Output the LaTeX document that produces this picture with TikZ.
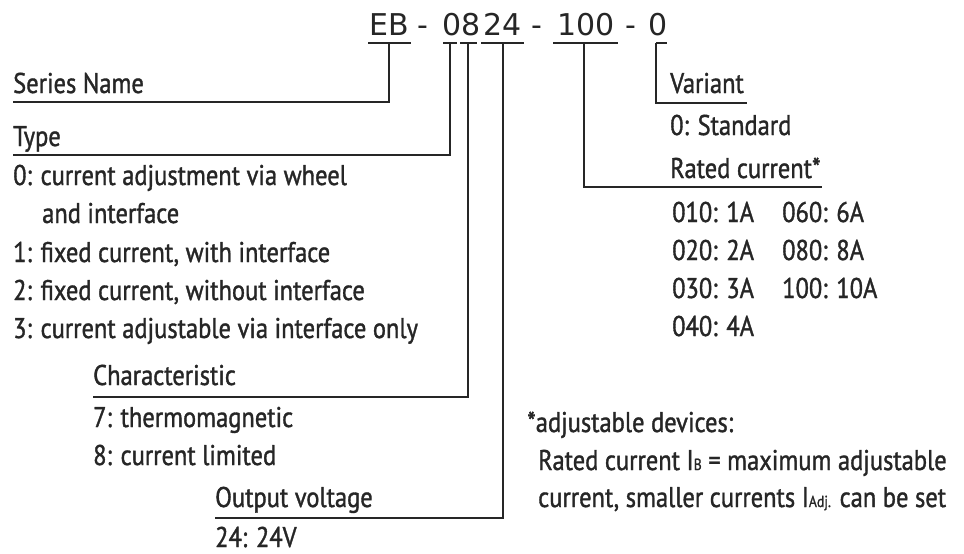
\documentclass[tikz,border=0pt]{standalone}
\usepackage{fontspec}
\setmainfont{PT Sans}[FakeStretch=0.86,FakeBold=1.2]
\newfontfamily\codefont{DejaVu Sans}
\definecolor{ink}{HTML}{262626}
\newcommand{\smallsub}[1]{{\fontsize{16}{16}\selectfont #1}}
\begin{document}
\begin{tikzpicture}[x=1pt,y=-1pt,
  txt/.style={anchor=base west,inner sep=0pt,text=ink,font=\fontsize{28.5}{30}\selectfont},
  code/.style={anchor=base,inner sep=0pt,text=ink,font=\codefont\fontsize{30}{30}\selectfont},
  ln/.style={draw=ink,line width=2.2pt}]
\useasboundingbox[fill=white] (0,0) rectangle (964,554);
% code segments
\node[code] (cEB) at (389,35) {EB};
\node[code] (d1) at (423,35) {-};
\node[code] (c0) at (452,35) {0};
\node[code] (c8) at (471,35) {8};
\node[code] (c24) at (503,35) {24};
\node[code] (d2) at (537,35) {-};
\node[code] (c100) at (586,35) {100};
\node[code] (d3) at (631,35) {-};
\node[code] (cV) at (658,35) {0};
% bars
\coordinate (bEBl) at (368,43); \coordinate (bEBr) at (411,43);
\coordinate (b0l) at (443,43); \coordinate (b0r) at (457,43);
\coordinate (b8l) at (460,43); \coordinate (b8r) at (477,43);
\coordinate (b24l) at (481,43); \coordinate (b24r) at (524,43);
\coordinate (b100l) at (553,43); \coordinate (b100r) at (618,43);
\coordinate (bVl) at (656,43); \coordinate (bVr) at (667,43);
\draw[ln] (bEBl) -- (bEBr);
\draw[ln] (b0l) -- (b0r);
\draw[ln] (b8l) -- (b8r);
\draw[ln] (b24l) -- (b24r);
\draw[ln] (b100l) -- (b100r);
\draw[ln] (bVl) -- (bVr);
% left labels
\node[txt] (sn) at (13,93) {Series Name};
\node[txt] (ty) at (13,146) {Type};
\node[txt] (t0) at (13,185) {0: current adjustment via wheel};
\node[txt] (t0b) at (42,223) {and interface};
\node[txt] (t1) at (13,262) {1: fixed current, with interface};
\node[txt] (t2) at (13,300) {2: fixed current, without interface};
\node[txt] (t3) at (13,338) {3: current adjustable via interface only};
\node[txt] (ch) at (93,385) {Characteristic};
\node[txt] (c7) at (93,427) {7: thermomagnetic};
\node[txt] (c8t) at (93,465) {8: current limited};
\node[txt] (ov) at (215,507) {Output voltage};
\node[txt] (o24) at (215,547) {24: 24V};
% right labels
\node[txt] (va) at (670,93) {Variant};
\node[txt] (v0) at (670,135) {0: Standard};
\node[txt] (rc) at (670,178) {Rated current*};
\node[txt] (r1) at (672,222) {010: 1A};
\node[txt] (r6) at (782,222) {060: 6A};
\node[txt] (r2) at (672,260) {020: 2A};
\node[txt] (r8) at (782,260) {080: 8A};
\node[txt] (r3) at (672,298) {030: 3A};
\node[txt] (r10) at (782,298) {100: 10A};
\node[txt] (r4) at (672,336) {040: 4A};
\node[txt] (f1) at (527,432) {*adjustable devices:};
\node[txt] (f2) at (538,470) {Rated current I\smallsub{B} = maximum adjustable};
\node[txt] (f3) at (538,507) {current, smaller currents I\smallsub{Adj.} can be set};
% connector lines
\coordinate (snL) at (13,102);
\coordinate (tyL) at (13,155);
\coordinate (chL) at (93,397);
\coordinate (ovL) at (215,518);
\coordinate (rcR) at (822,187);
\coordinate (vaR) at (747,103);
\draw[ln] (cEB.center |- bEBl) |- (snL);
\draw[ln] (450,43) |- (tyL);
\draw[ln] (468,43) |- (chL);
\draw[ln] (c24.center |- b24l) |- (ovL);
\draw[ln] (584,43) |- (rcR);
\draw[ln] (bVl) |- (vaR);
\end{tikzpicture}
\end{document}
